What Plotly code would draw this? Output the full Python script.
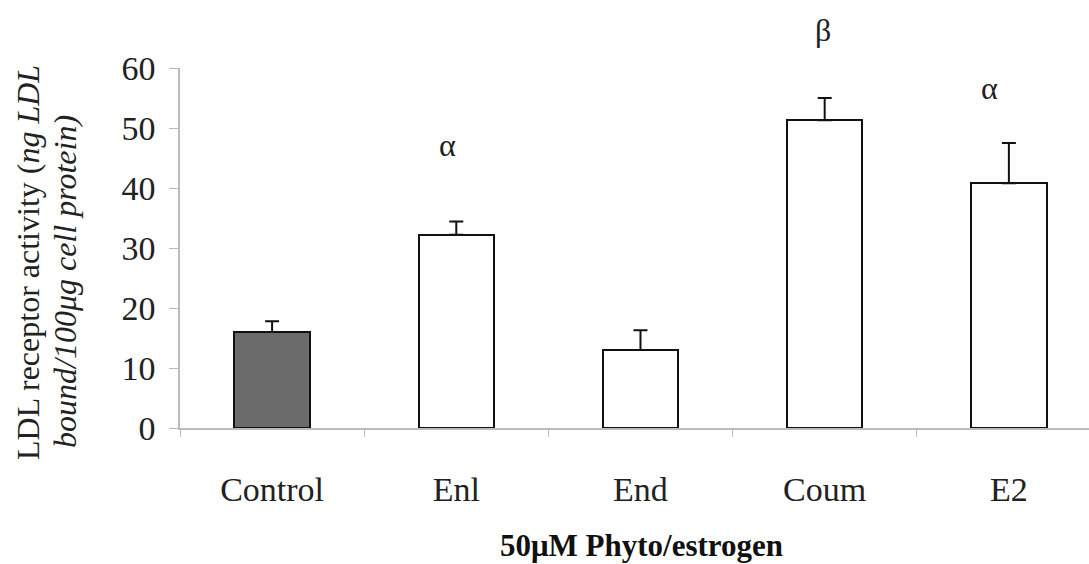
import plotly.graph_objects as go

# LDL receptor activity per treatment (mean and SEM, upper bar only)
categories = ["Control", "Enl", "End", "Coum", "E2"]
activity = [16.0, 32.2, 13.0, 51.3, 40.8]
sem_upper = [1.8, 2.2, 3.3, 3.7, 6.7]
bar_fills = ["#6b6b6b", "white", "white", "white", "white"]

# significance markers drawn above selected bars
sig_categories = ["Enl", "Coum", "E2"]
sig_labels = ["α", "β", "α"]
sig_heights = [47.2, 66.3, 56.7]
sig_xshift = [-9, -2, -19]

y_ticks = [0, 10, 20, 30, 40, 50, 60]
Y_MAX = 60

serif = "Liberation Serif, Times New Roman, serif"

fig = go.Figure()
fig.add_trace(go.Bar(
    x=categories,
    y=activity,
    width=0.41,
    marker=dict(color=bar_fills, line=dict(color="#111111", width=2)),
    error_y=dict(type="data", symmetric=False, array=sem_upper,
                 arrayminus=[0] * len(sem_upper),
                 color="#111111", thickness=2, width=7),
    showlegend=False,
))

# markers may sit above the axis range, so position them in axis-domain units
for cat, lab, h, dx in zip(sig_categories, sig_labels, sig_heights, sig_xshift):
    fig.add_annotation(x=cat, y=h / Y_MAX, yref="y domain", text=lab,
                       showarrow=False, xshift=dx, yanchor="middle",
                       font=dict(family=serif, size=32, color="#222"))

# axis titles
fig.add_annotation(xref="paper", yref="paper", x=0.508, y=-0.325,
                   text="<b>50μM Phyto/estrogen</b>", showarrow=False,
                   xanchor="center", yanchor="middle",
                   font=dict(family=serif, size=31, color="#111"))
fig.add_annotation(xref="paper", yref="paper", x=(28 - 180) / 909, y=(428 - 263) / 360,
                   text="LDL receptor activity (<i>ng LDL</i>",
                   showarrow=False, textangle=-90, xanchor="center", yanchor="middle",
                   font=dict(family=serif, size=32, color="#222"))
fig.add_annotation(xref="paper", yref="paper", x=(65 - 180) / 909, y=(428 - 282) / 360,
                   text="<i>bound/100μg cell protein)</i>",
                   showarrow=False, textangle=-90, xanchor="center", yanchor="middle",
                   font=dict(family=serif, size=32, color="#222"))

fig.update_layout(
    width=1089, height=564,
    margin=dict(l=180, r=0, t=68, b=136),
    paper_bgcolor="white", plot_bgcolor="white",
    bargap=0,
)
fig.update_xaxes(
    range=[-0.5, 4.435],
    showline=True, linecolor="#bbbbbb", linewidth=1.5,
    ticks="outside", tickson="boundaries", ticklen=7, tickcolor="#bbbbbb",
    ticklabelstandoff=30,
    tickfont=dict(family=serif, size=34, color="#222"),
    showgrid=False, zeroline=False,
)
fig.update_yaxes(
    range=[0, Y_MAX], tickvals=y_ticks,
    showline=True, linecolor="#bbbbbb", linewidth=1.5,
    ticks="outside", ticklen=9, tickcolor="#bbbbbb",
    ticklabelstandoff=7,
    tickfont=dict(family=serif, size=34, color="#222"),
    showgrid=False, zeroline=False,
)

fig.write_html("out.html")
